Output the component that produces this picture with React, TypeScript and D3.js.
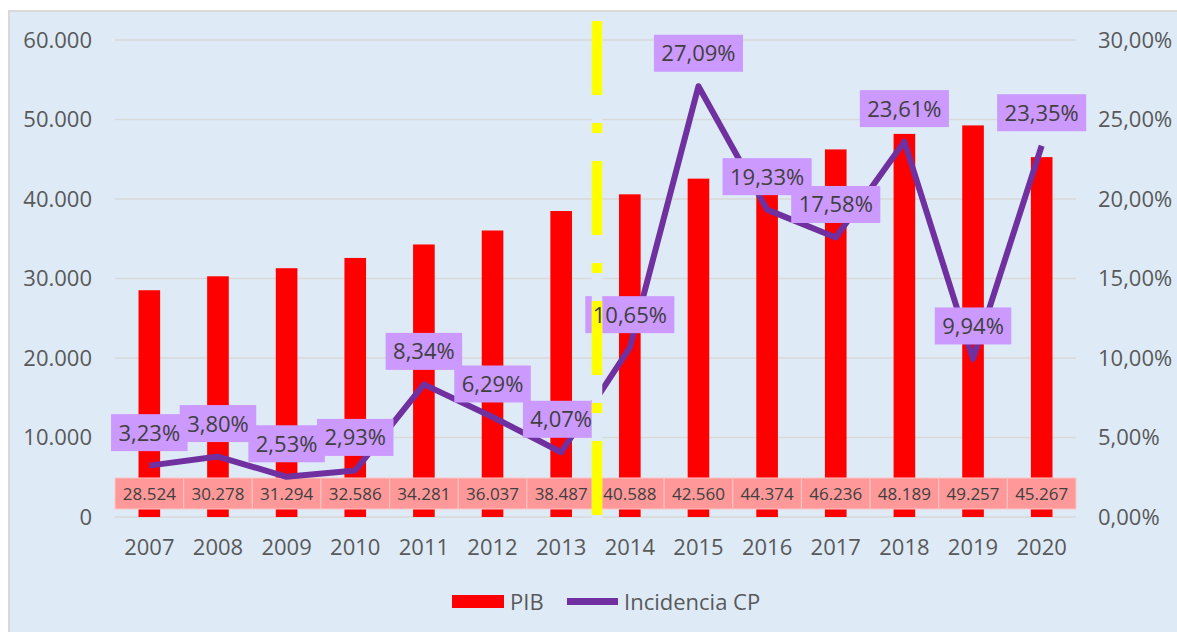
import React from "react";
import * as d3 from "d3";

const years = ["2007","2008","2009","2010","2011","2012","2013","2014","2015","2016","2017","2018","2019","2020"];
const pib = [28524,30278,31294,32586,34281,36037,38487,40588,42560,44374,46236,48189,49257,45267];
const incidencia = [3.23,3.80,2.53,2.93,8.34,6.29,4.07,10.65,27.09,19.33,17.58,23.61,9.94,23.35];
const leftTicks = [0,10000,20000,30000,40000,50000,60000];
const rightTicks = [0,5,10,15,20,25,30];
const dividerYear = "2014";

const W = 1177, H = 632;
const BG = "#DEEBF7";
const FONT = "'Open Sans', sans-serif";

const loc = d3.formatLocale({ decimal: ",", thousands: ".", grouping: [3], currency: ["", "€"] });
const fmtInt = loc.format(",.0f");
const fmtPct = (v: number) => loc.format(".2f")(v) + "%";

function estWidth(s: string, size: number) {
  let w = 0;
  for (const c of s) {
    if (/[0-9]/.test(c)) w += 0.572;
    else if (c === "," || c === ".") w += 0.26;
    else if (c === "%") w += 0.82;
    else w += 0.55;
  }
  return w * size;
}

export default function App() {
  const x = d3.scaleBand<string>().domain(years).range([115, 1076]).padding(0);
  const bw = x.bandwidth();
  const yL = d3.scaleLinear().domain([0, 60000]).range([517, 40]);
  const yR = d3.scaleLinear().domain([0, 30]).range([517, 40]);
  const cx = (yr: string) => (x(yr) as number) + bw / 2;
  const barW = bw * 0.315;

  const line = d3.line<number>()
    .x((_, i) => cx(years[i]))
    .y((d) => yR(d));

  const divX = (x(dividerYear) as number) + 1.5;
  const divW = 10.5;

  const labels = years.map((yr, i) => {
    const s = fmtPct(incidencia[i]);
    const w = estWidth(s, 22) + 15;
    const cy = yR(incidencia[i]) - 33;
    return { yr, s, w, cy, x: cx(yr) };
  });

  return (
    <svg width={W} height={H} style={{ position: "absolute", left: 0, top: 0, fontFamily: FONT }}>
      <rect x={0} y={0} width={W} height={H} fill="#FFFFFF" />
      <rect x={9} y={11} width={W + 10} height={H + 10} fill={BG} stroke="#D9D9D9" strokeWidth={2} />
      {leftTicks.map((t) => (
        <line key={t} x1={115} x2={1076} y1={yL(t)} y2={yL(t)} stroke="#D9D9D9" strokeWidth={1.5} />
      ))}
      {leftTicks.map((t) => (
        <text key={"l" + t} x={92} y={yL(t)} dy="0.36em" textAnchor="end" fontSize={22} fill="#595959">
          {t === 0 ? "0" : fmtInt(t)}
        </text>
      ))}
      {rightTicks.map((t) => (
        <text key={"r" + t} x={1098} y={yR(t)} dy="0.36em" textAnchor="start" fontSize={22} fill="#595959">
          {fmtPct(t)}
        </text>
      ))}
      {years.map((yr, i) => (
        <rect key={yr} x={cx(yr) - barW / 2} y={yL(pib[i])} width={barW} height={yL(0) - yL(pib[i])} fill="#FF0000" />
      ))}
      {years.map((yr, i) => (
        <g key={"t" + yr}>
          <rect x={x(yr) as number} y={478} width={bw} height={31} fill="#FF9999" stroke="#FFC4C4" strokeWidth={1} />
          <text x={cx(yr)} y={493.5} dy="0.36em" textAnchor="middle" fontSize={17} fill="#404040">
            {fmtInt(pib[i])}
          </text>
        </g>
      ))}
      {years.map((yr) => (
        <text key={"y" + yr} x={cx(yr)} y={555} textAnchor="middle" fontSize={22} fill="#595959">
          {yr}
        </text>
      ))}
      <path d={line(incidencia) || ""} fill="none" stroke="#7030A0" strokeWidth={6} strokeLinejoin="round" />
      {labels.map((l) => (
        <rect key={"b" + l.yr} x={l.x - l.w / 2} y={l.cy - 18.5} width={l.w} height={37} fill="#CC99FF" />
      ))}
      <rect x={divX - divW / 2} y={19} width={divW} height={500} fill={BG} />
      <line x1={divX} x2={divX} y1={21} y2={515} stroke="#FFFF00" strokeWidth={divW} strokeDasharray="74,28,10,28" />
      {labels.map((l) => (
        <text key={"d" + l.yr} x={l.x} y={l.cy} dy="0.36em" textAnchor="middle" fontSize={22} fill="#404040">
          {l.s}
        </text>
      ))}
      <rect x={452} y={595} width={52} height={13} fill="#FF0000" />
      <text x={510} y={602} dy="0.36em" fontSize={22} fill="#595959">PIB</text>
      <line x1={567} x2={618} y1={601.5} y2={601.5} stroke="#7030A0" strokeWidth={7} />
      <text x={624} y={602} dy="0.36em" fontSize={22} fill="#595959">Incidencia CP</text>
    </svg>
  );
}
